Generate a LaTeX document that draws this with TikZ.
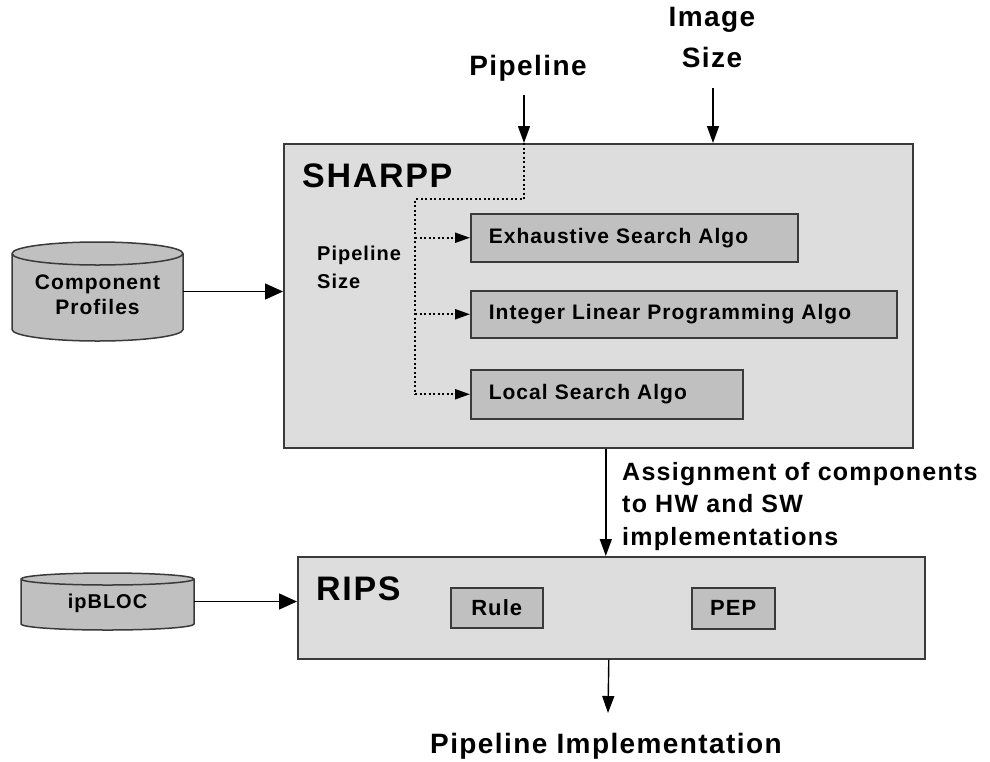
\documentclass[tikz,border=0pt]{standalone}
\usepackage{fontspec}
\newfontfamily\dfont{Liberation Sans}[LetterSpace=5]
\usetikzlibrary{arrows.meta}
\definecolor{boxbg}{HTML}{DDDDDD}
\definecolor{innerbg}{HTML}{C0C0C0}
\definecolor{edge}{HTML}{3A3A3A}
% bold sans at a given size / baselineskip
\newcommand\fs[2]{\dfont\bfseries\fontsize{#1}{#2}\selectfont}
% database cylinder: left, right, top, bottom, ellipse y-radius
\newcommand\dbcyl[5]{%
  \pgfmathsetmacro\cylrx{(#2-#1)/2}%
  \pgfmathsetmacro\cylyt{#3+#5}%
  \pgfmathsetmacro\cylyb{#4-#5}%
  \filldraw[cylbody] (#1,\cylyt) -- (#1,\cylyb)
    arc[start angle=180,end angle=0,x radius=\cylrx,y radius=#5]
    -- (#2,\cylyt)
    arc[start angle=0,end angle=-180,x radius=\cylrx,y radius=#5] -- cycle;
  \draw[cylbody] (#1,\cylyt) arc[start angle=180,end angle=0,x radius=\cylrx,y radius=#5];
}
\tikzset{
  bigbox/.style={draw=edge, fill=boxbg, line width=1.6pt, anchor=north west, inner sep=0pt},
  algobox/.style={draw=edge, fill=innerbg, line width=1.5pt, anchor=north west,
    inner xsep=18pt, inner ysep=0pt, align=left, font=\fs{21}{25}},
  smallbox/.style={draw=edge, fill=innerbg, line width=1.5pt, anchor=north west,
    inner sep=0pt, font=\fs{22}{26}},
  cylbody/.style={draw=edge, fill=innerbg, line width=1.5pt},
  plain/.style={inner sep=0pt},
  arr/.style={-{Triangle[length=17pt,width=12pt]}, line width=1.4pt},
  harr/.style={-{Triangle[length=18pt,width=16pt]}, line width=1.4pt},
  dotline/.style={line width=2pt, dash pattern=on 2pt off 2.5pt},
  dotarr/.style={dotline, -{Triangle[length=15pt,width=10pt]}},
}
\begin{document}
\begin{tikzpicture}[x=1pt,y=-1pt]
\fill[white] (0,0) rectangle (990,761);
\useasboundingbox (0,0) rectangle (990,761);

% main blocks
\node[bigbox, minimum width=629pt, minimum height=304pt] (sharpp) at (283,143) {};
\node[bigbox, minimum width=627pt, minimum height=102pt] (rips) at (297,556) {};
\node[plain, anchor=base west, font=\fs{34}{40}] (sharpptitle) at (302,187) {SHARPP};
\node[plain, anchor=base west, font=\fs{34}{40}] (ripstitle) at (316,600) {RIPS};

% algorithms inside SHARPP
\node[algobox, text width=291pt, minimum height=48pt] (exh) at (470,213) {Exhaustive Search Algo};
\node[algobox, text width=390pt, minimum height=47pt] (ilp) at (470,290) {Integer Linear Programming Algo};
\node[algobox, text width=236pt, minimum height=49pt] (ls) at (470,369) {Local Search Algo};
\node[plain, anchor=north west, align=left, font=\fs{20}{28}] (psize) at (317,246) {Pipeline\\Size};

% parts of RIPS
\node[smallbox, minimum width=92pt, minimum height=40pt] (rule) at (450,587) {Rule};
\node[smallbox, minimum width=83pt, minimum height=41pt] (pep) at (691,587) {PEP};

% databases
\dbcyl{12}{183}{242}{341}{11.5}
\node[plain, minimum width=171pt, minimum height=99pt] (cprof) at (97.5,291.5) {};
\node[plain, anchor=north, align=center, font=\fs{21}{25}] (cproftext) at (97.5,275) {Component\\Profiles};
\dbcyl{21}{194}{573}{630}{6}
\node[plain, minimum width=173pt, minimum height=57pt] (ipbloc) at (107.5,601.5) {};
\node[plain, font=\fs{20}{24}] (ipbloctext) at (107.5,603) {ipBLOC};

% inputs from above
\node[plain, anchor=base, font=\fs{28}{34}] (pipelbl) at (528,75) {Pipeline};
\node[plain, anchor=north, align=center, font=\fs{28}{41}] (imgsize) at (712,7) {Image\\Size};
\coordinate (pipeStart) at (524,95);
\coordinate (pipeIn) at (pipeStart |- sharpp.north);
\coordinate (imgStart) at (713,88);
\draw[arr] (pipeStart) -- (pipeIn);
\draw[arr] (imgStart) -- (imgStart |- sharpp.north);

% pipeline size distribution
\coordinate (bend) at (524,199);
\coordinate (spineTop) at (415,199);
\draw[dotline] (pipeIn) -- (bend) -- (spineTop) -- (spineTop |- ls.west);
\draw[dotarr] (spineTop |- exh.west) -- (exh.west);
\draw[dotarr] (spineTop |- ilp.west) -- (ilp.west);
\draw[dotarr] (spineTop |- ls.west) -- (ls.west);

% database feeds
\draw[harr] (cprof.east) -- (cprof.east -| sharpp.west);
\draw[harr] (ipbloc.east) -- (ipbloc.east -| rips.west);

% SHARPP to RIPS
\coordinate (assignStart) at ([xshift=7.5pt]sharpp.south);
\draw[arr] (assignStart) -- (assignStart |- rips.north);
\node[plain, anchor=north west, align=left, font=\fs{25}{32.5}] (assign) at (622,462)
  {Assignment of components\\to HW and SW\\implementations};

% output
\coordinate (outStart) at ([xshift=-2.5pt]rips.south);
\coordinate (outEnd) at (608,713);
\draw[arr] (outStart) -- (outEnd);
\node[plain, anchor=base west, font=\fs{28}{34}] (impl) at (430,753) {Pipeline Implementation};
\end{tikzpicture}
\end{document}
